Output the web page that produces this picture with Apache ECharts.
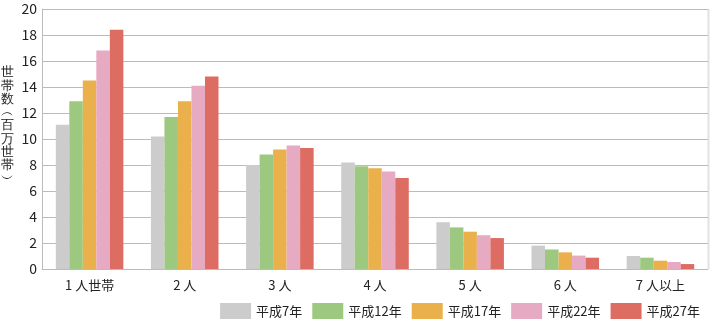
<!DOCTYPE html>
<html><head><meta charset="utf-8">
<script src="https://cdn.jsdelivr.net/npm/echarts@6/dist/echarts.min.js"></script>
<style>html,body{margin:0;padding:0;background:#fff}#c{width:710px;height:328px}</style>
</head><body><div id="c"></div>
<script>
const categories = ['1 人世帯','2 人','3 人','4 人','5 人','6 人','7 人以上'];
const seriesNames = ['平成7年','平成12年','平成17年','平成22年','平成27年'];
const h7  = [11.1, 10.2, 8.0, 8.2, 3.6, 1.8, 1.0];
const h12 = [12.9, 11.7, 8.8, 7.9, 3.2, 1.5, 0.87];
const h17 = [14.5, 12.9, 9.2, 7.75, 2.87, 1.28, 0.64];
const h22 = [16.8, 14.1, 9.5, 7.5, 2.6, 1.03, 0.54];
const h27 = [18.4, 14.8, 9.3, 7.0, 2.38, 0.87, 0.38];
const yTicks = [0,2,4,6,8,10,12,14,16,18,20];
const yTitle = ['世','帯','数','︵','百','万','世','帯','︶'];

const colors = ['#cccccc','#9cc97f','#eab04c','#e7aac3','#dd6d62'];
const FONT = '"Noto Sans CJK JP", "Noto Sans", sans-serif';
const dataSets = [h7,h12,h17,h22,h27];
const chart = echarts.init(document.getElementById('c'));
chart.setOption({
  animation:false,
  textStyle:{fontFamily:FONT},
  grid:{left:42,right:2,top:9,bottom:59},
  legend:{
    right:5, bottom:4, itemWidth:31, itemHeight:16, itemGap:10,
    icon:'rect',
    textStyle:{fontSize:13,color:'#222',fontFamily:FONT},
    data:seriesNames
  },
  xAxis:{
    type:'category', data:categories,
    axisLine:{lineStyle:{color:'#bbb'}},
    axisTick:{show:false},
    axisLabel:{fontSize:13,color:'#222',margin:10,fontFamily:FONT}
  },
  yAxis:{
    type:'value', min:yTicks[0], max:yTicks[yTicks.length-1], interval:2,
    axisLine:{show:true,lineStyle:{color:'#bbb'}},
    axisTick:{show:false},
    splitLine:{lineStyle:{color:'#bbb',width:1}},
    axisLabel:{fontSize:14,color:'#222',margin:5,fontFamily:FONT}
  },
  graphic:[
    {type:'text', left:1, top:66, style:{text:yTitle.join('\n'), fontSize:13, lineHeight:13.3, fill:'#222', font:'bold 13px '+FONT, textAlign:'left'}},
    {type:'rect', shape:{x:707.5,y:9,width:2,height:260}, style:{fill:'#e2e2e2'}}
  ],
  series: seriesNames.map((n,i)=>({
    name:n, type:'bar', data:dataSets[i],
    barGap:'0%', barCategoryGap:'29%',
    itemStyle:{color:colors[i]}
  }))
});
</script></body></html>
